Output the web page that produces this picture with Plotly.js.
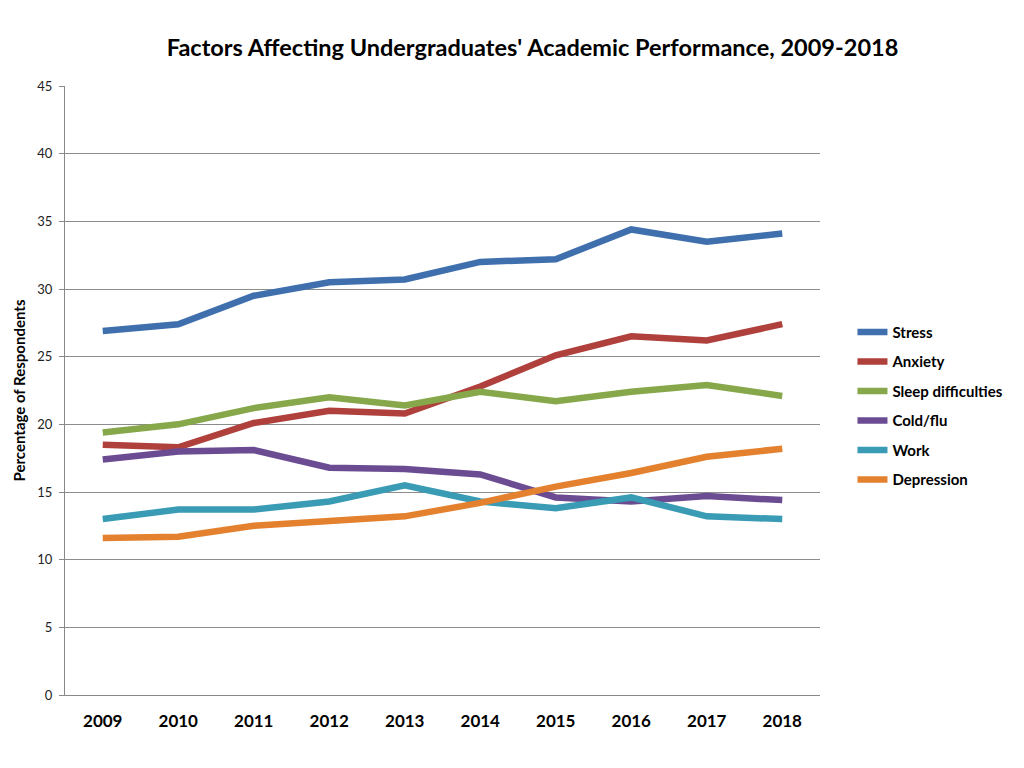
<!DOCTYPE html>
<html>
<head>
<meta charset="utf-8">
<script src="https://cdn.plot.ly/plotly-3.0.1.min.js"></script>
<style>html,body{margin:0;padding:0;background:#fff;}#chart{width:1024px;height:768px;}</style>
</head>
<body>
<div id="chart"></div>
<script>
var years = ['2009','2010','2011','2012','2013','2014','2015','2016','2017','2018'];
var stress = [26.9, 27.4, 29.5, 30.5, 30.7, 32.0, 32.2, 34.4, 33.5, 34.1];
var anxiety = [18.5, 18.3, 20.1, 21.0, 20.8, 22.8, 25.1, 26.5, 26.2, 27.4];
var sleep = [19.4, 20.0, 21.2, 22.0, 21.4, 22.4, 21.7, 22.4, 22.9, 22.1];
var coldflu = [17.4, 18.0, 18.1, 16.8, 16.7, 16.3, 14.6, 14.3, 14.7, 14.4];
var work = [13.0, 13.7, 13.7, 14.3, 15.5, 14.3, 13.8, 14.6, 13.2, 13.0];
var depression = [11.6, 11.7, 12.5, 12.8, 13.2, 14.2, 15.4, 16.4, 17.6, 18.2];
var names = ['Stress','Anxiety','Sleep difficulties','Cold/flu','Work','Depression'];
var colors = ['#3F6FAD','#AF403C','#86A84A','#6B4C93','#3A9BB5','#E3812F'];
var series = [stress, anxiety, sleep, coldflu, work, depression];
var traces = series.map(function(s, i){
  return {x: years, y: s, name: names[i], legendgroup: 'g' + i, type: 'scatter', mode: 'lines',
          line: {color: colors[i], width: 6.5}};
});
var font = "Lato, 'Open Sans', sans-serif";
var layout = {
  width: 1024, height: 768,
  margin: {l: 65, r: 204, t: 86, b: 73},
  paper_bgcolor: '#fff', plot_bgcolor: '#fff',
  font: {family: font, color: '#000'},
  title: {text: "<b>Factors Affecting Undergraduates' Academic Performance, 2009-2018</b>",
          font: {size: 23.5, family: font, color: '#000'}, x: 0.52, xref: 'container', xanchor: 'center',
          y: 0.9375, yref: 'container', yanchor: 'middle'},
  xaxis: {type: 'category', range: [-0.5, 9.5], showgrid: false, showline: true, linecolor: '#888', linewidth: 1,
          ticks: '', ticklabelstandoff: 11, tickfont: {size: 17, family: font, color: '#000', weight: 'bold'}, zeroline: false},
  yaxis: {range: [0, 45], dtick: 5, showgrid: true, gridcolor: '#8c8c8c', gridwidth: 1,
          showline: true, linecolor: '#888', linewidth: 1, ticks: 'outside', ticklen: 5, tickcolor: '#888',
          ticklabelstandoff: 4,
          tickfont: {size: 13, family: font, color: '#222'}, zeroline: false,
          title: {text: '<b>Percentage of Respondents</b>', font: {size: 15, family: font, color: '#000'}, standoff: 8}},
  legend: {x: 1.043, y: 0.475, xanchor: 'left', yanchor: 'middle', font: {size: 15, family: font, color: '#000', weight: 'bold'},
           bgcolor: 'rgba(0,0,0,0)', tracegroupgap: 7},
  showlegend: true
};
Plotly.newPlot('chart', traces, layout, {displayModeBar: false});
</script>
</body>
</html>
